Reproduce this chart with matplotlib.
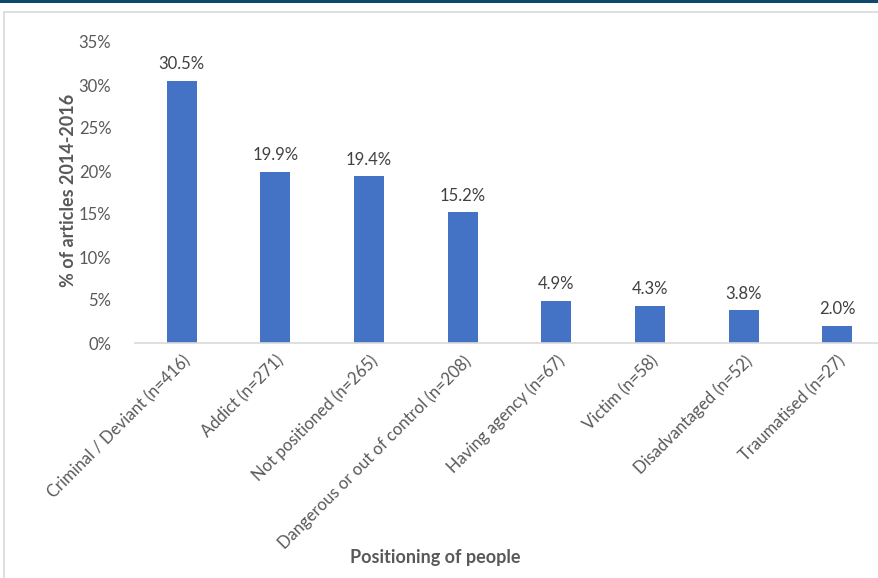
import matplotlib.pyplot as plt
import matplotlib.transforms as mtransforms
from matplotlib.lines import Line2D
from matplotlib.patches import Rectangle
from matplotlib.ticker import FuncFormatter

# ================================================================
# Data
# ================================================================

categories = [
    'Criminal / Deviant (n=416)',
    'Addict (n=271)',
    'Not positioned (n=265)',
    'Dangerous or out of control (n=208)',
    'Having agency (n=67)',
    'Victim (n=58)',
    'Disadvantaged (n=52)',
    'Traumatised (n=27)',
]
percent = [30.5, 19.9, 19.4, 15.2, 4.9, 4.3, 3.8, 2.0]
y_ticks = [0, 5, 10, 15, 20, 25, 30, 35]

BAR_COLOR = '#4472C4'
TEXT_GRAY = '#595959'
plt.rcParams['font.family'] = ['Lato', 'DejaVu Sans']

# ================================================================
# Figure
# ================================================================

W, H = 879, 578
fig = plt.figure(figsize=(W / 100, H / 100), dpi=100)

# dark band on top and light frame
fig.add_artist(Rectangle((0, 1 - 3 / H), 1, 3 / H, transform=fig.transFigure,
                         color='#0B4A6E', lw=0))
fig.add_artist(Line2D([4 / W, 1], [1 - 12 / H, 1 - 12 / H], transform=fig.transFigure,
                      color='#D9D9D9', lw=1.2))
fig.add_artist(Line2D([4 / W, 4 / W], [0, 1 - 12 / H], transform=fig.transFigure,
                      color='#D9D9D9', lw=1.2))

left, right = 135 / W, 1.0
bottom, top = (H - 343) / H, (H - 42) / H
ax = fig.add_axes([left, bottom, right - left, top - bottom])

x = list(range(len(categories)))
ax.bar(x, percent, width=0.32, color=BAR_COLOR, zorder=2)

for xi, v in zip(x, percent):
    ax.text(xi, v + 1.0, f'{v:.1f}%', ha='center', va='bottom',
            fontsize=12, color='#404040')

ax.set_ylim(0, 35)
ax.set_xlim(-0.5, (879 - 182) / 93.6)
ax.set_yticks(y_ticks)
ax.yaxis.set_major_formatter(FuncFormatter(lambda v, p: f'{v:.0f}%'))
ax.set_xticks(x)
ax.set_xticklabels(categories, rotation=45, ha='right', va='top',
                   rotation_mode='anchor', fontsize=12, color=TEXT_GRAY)
shift = mtransforms.ScaledTranslation(8 / 100, 0, fig.dpi_scale_trans)
for lbl in ax.get_xticklabels():
    lbl.set_transform(lbl.get_transform() + shift)
ax.tick_params(axis='both', length=0, colors=TEXT_GRAY)
ax.tick_params(axis='y', labelsize=12)
ax.tick_params(axis='x', pad=7)
ax.tick_params(axis='y', pad=17)

for s in ['top', 'right', 'left']:
    ax.spines[s].set_visible(False)
ax.spines['bottom'].set_color('#D9D9D9')
ax.spines['bottom'].set_linewidth(1.2)

fig.text(68 / W, 1 - 190 / H, '% of articles 2014-2016', rotation=90,
         ha='center', va='center', fontsize=13, fontweight='bold', color=TEXT_GRAY)
fig.text(435 / W, 1 - 558 / H, 'Positioning of people', ha='center', va='center',
         fontsize=13, fontweight='bold', color=TEXT_GRAY)

plt.savefig('out.png', dpi=100)
plt.close()
